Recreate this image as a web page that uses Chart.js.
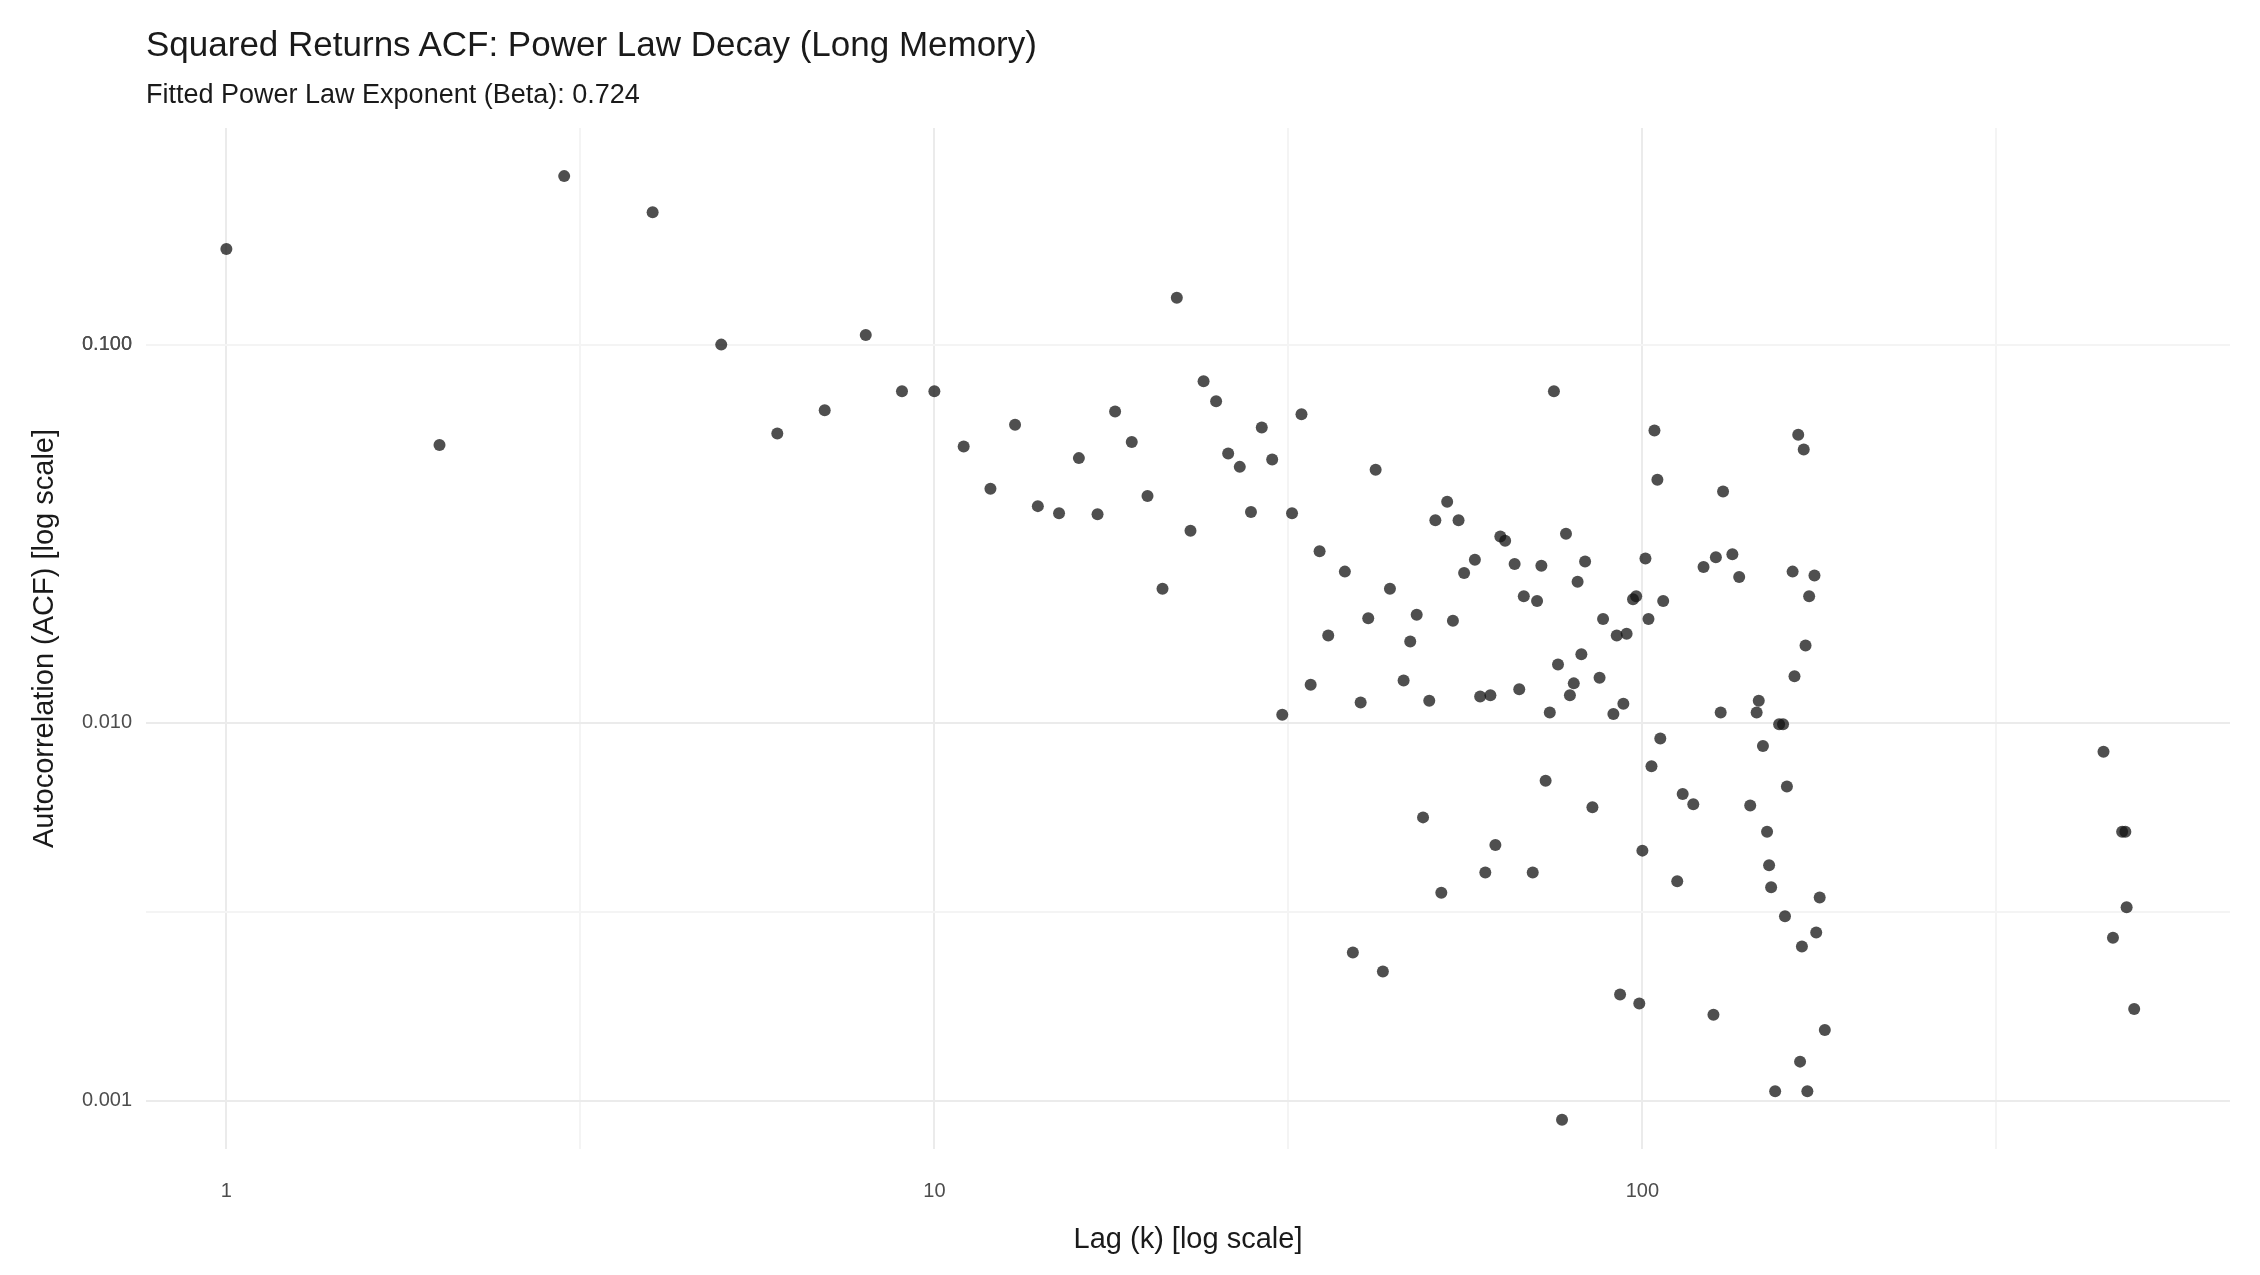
<!DOCTYPE html>
<html>
<head>
<meta charset="utf-8">
<script src="https://cdn.jsdelivr.net/npm/chart.js@4/dist/chart.umd.min.js"></script>
<style>
  body { margin: 0; background: #fff; font-family: "Liberation Sans", Arial, sans-serif; }
  #wrap { position: relative; width: 2260px; height: 1275px; }
  #title { position: absolute; left: 146px; top: 24px; font-size: 35px; color: #1a1a1a; }
  #subtitle { position: absolute; left: 146px; top: 79px; font-size: 27px; color: #1a1a1a; }
  canvas { position: absolute; left: 0; top: 0; }
</style>
</head>
<body>
<div id="wrap">
  <canvas id="chart" width="2260" height="1275"></canvas>
  <div id="title">Squared Returns ACF: Power Law Decay (Long Memory)</div>
  <div id="subtitle">Fitted Power Law Exponent (Beta): 0.724</div>
</div>
<script>
const lags = [1, 2, 3, 4, 5, 6, 7, 8, 9, 10, 11, 12, 13, 14, 15, 16, 17, 18, 19, 20,
  21, 22, 23, 24, 25, 26, 27, 28, 29, 30, 31, 32, 33, 34, 35, 36,
  38, 39, 40, 41, 43, 42, 44, 46, 47, 48, 49, 50, 51, 52, 53, 54, 55, 56, 58, 59,
  60, 61, 62, 63, 64, 66, 67, 68, 70, 71, 72, 73, 74, 75, 76, 77, 78, 79, 80, 81,
  82, 83, 85, 87, 88, 91, 92, 93, 94, 95, 97, 98, 99, 100, 101, 102, 103, 104, 105, 106,
  107, 112, 114, 118, 122, 126, 127, 129, 130, 134, 137, 142, 145, 146, 148, 150, 151, 152, 154, 156,
  158, 159, 160, 163, 164, 166, 167, 168, 169, 170, 171, 172, 175, 176, 178, 181,
  448, 476, 481, 483, 462, 495];
const acf = [0.179, 0.0543, 0.279, 0.224, 0.100, 0.0582, 0.0671, 0.106, 0.0753, 0.0753,
  0.0538, 0.0416, 0.0614, 0.0374, 0.0358, 0.0501, 0.0356, 0.0665, 0.0553, 0.0398,
  0.0226, 0.133, 0.0322, 0.080, 0.0708, 0.0515, 0.0475, 0.0361, 0.0604, 0.0497,
  0.0105, 0.0358, 0.0654, 0.0126, 0.0284, 0.0170,
  0.0251, 0.00247, 0.01132, 0.0189, 0.00220, 0.0467, 0.0226, 0.01294, 0.0164, 0.0193,
  0.00562, 0.01143, 0.0343, 0.00355, 0.0384, 0.0186, 0.0343, 0.0249, 0.0270, 0.01173,
  0.00402, 0.01183, 0.00475, 0.0311, 0.0303, 0.0263, 0.01227, 0.0216, 0.00402, 0.0210,
  0.0260, 0.00702, 0.01064, 0.0753, 0.01426, 0.000891, 0.0316, 0.01183, 0.01271, 0.0236,
  0.01517, 0.0267, 0.00598, 0.01316, 0.0188, 0.01054, 0.0170, 0.00191, 0.01122, 0.0172,
  0.0212, 0.0216, 0.00181, 0.00459, 0.0272, 0.0188, 0.00767, 0.0593, 0.0439, 0.00908,
  0.0210, 0.00381, 0.00648, 0.00609, 0.0258, 0.00169, 0.0274, 0.01064, 0.0409, 0.0279,
  0.0243, 0.00604, 0.01064, 0.01143, 0.00868, 0.00515, 0.00420, 0.00367, 0.00106, 0.00991,
  0.00991, 0.00308, 0.00678, 0.0251, 0.01328, 0.0578, 0.00127, 0.00256, 0.0528, 0.0160,
  0.00106, 0.0216, 0.0245, 0.00279, 0.00345, 0.00154,
  0.00838, 0.00515, 0.00515, 0.00325, 0.00270, 0.00175];
const xTicks = [1, 10, 100];
const xMinor = [Math.sqrt(10), Math.sqrt(1000), Math.sqrt(100000)];
const yTicks = [0.001, 0.01, 0.1];
const yTickLabels = ["0.001", "0.010", "0.100"];
const yMinor = [Math.sqrt(0.0001 * 0.1), Math.sqrt(0.001 * 0.1 * 0.1), Math.sqrt(0.1 * 0.1 * 0.1 * 10)];

const points = lags.map((l, i) => ({ x: l, y: acf[i] }));
const tickFont = { family: "Liberation Sans", size: 20 };
const titleFont = { family: "Liberation Sans", size: 29 };

function gridColor(ctx) {
  return ctx.tick && ctx.tick.major ? "#ebebeb" : "#f4f4f4";
}

new Chart(document.getElementById("chart"), {
  type: "scatter",
  data: {
    datasets: [{
      data: points,
      backgroundColor: "rgba(20,20,20,0.75)",
      borderWidth: 0,
      pointRadius: 6
    }]
  },
  options: {
    responsive: false,
    animation: false,
    layout: { padding: { top: 128, right: 30, left: 0, bottom: 14 } },
    plugins: { legend: { display: false }, tooltip: { enabled: false } },
    scales: {
      x: {
        type: "logarithmic",
        min: 0.77,
        max: 676,
        afterBuildTicks: axis => {
          axis.ticks = xTicks.map(v => ({ value: v, major: true }))
            .concat(xMinor.map(v => ({ value: v, major: false })));
        },
        afterFit: axis => { axis.height = 112; },
        grid: { color: gridColor, lineWidth: 2, drawTicks: false },
        border: { display: false },
        ticks: {
          padding: 30,
          color: "#4d4d4d",
          font: tickFont,
          autoSkip: false,
          maxRotation: 0,
          callback: (v, i, ticks) => ticks[i].major ? String(v) : ""
        },
        title: { display: true, text: "Lag (k) [log scale]", color: "#1a1a1a", font: titleFont, padding: { top: 0 } }
      },
      y: {
        type: "logarithmic",
        min: 0.000746,
        max: 0.374,
        afterBuildTicks: axis => {
          axis.ticks = yTicks.map(v => ({ value: v, major: true }))
            .concat(yMinor.map(v => ({ value: v, major: false })));
        },
        afterFit: axis => { axis.width = 146; },
        grid: { color: gridColor, lineWidth: 2, drawTicks: false },
        border: { display: false },
        ticks: {
          padding: 14,
          color: "#4d4d4d",
          font: tickFont,
          autoSkip: false,
          callback: (v, i, ticks) => {
            const k = yTicks.indexOf(ticks[i].value);
            return k >= 0 ? yTickLabels[k] : "";
          }
        },
        title: { display: true, text: "Autocorrelation (ACF) [log scale]", color: "#1a1a1a", font: titleFont, padding: { top: 28, bottom: 6 } }
      }
    }
  }
});
</script>
</body>
</html>
